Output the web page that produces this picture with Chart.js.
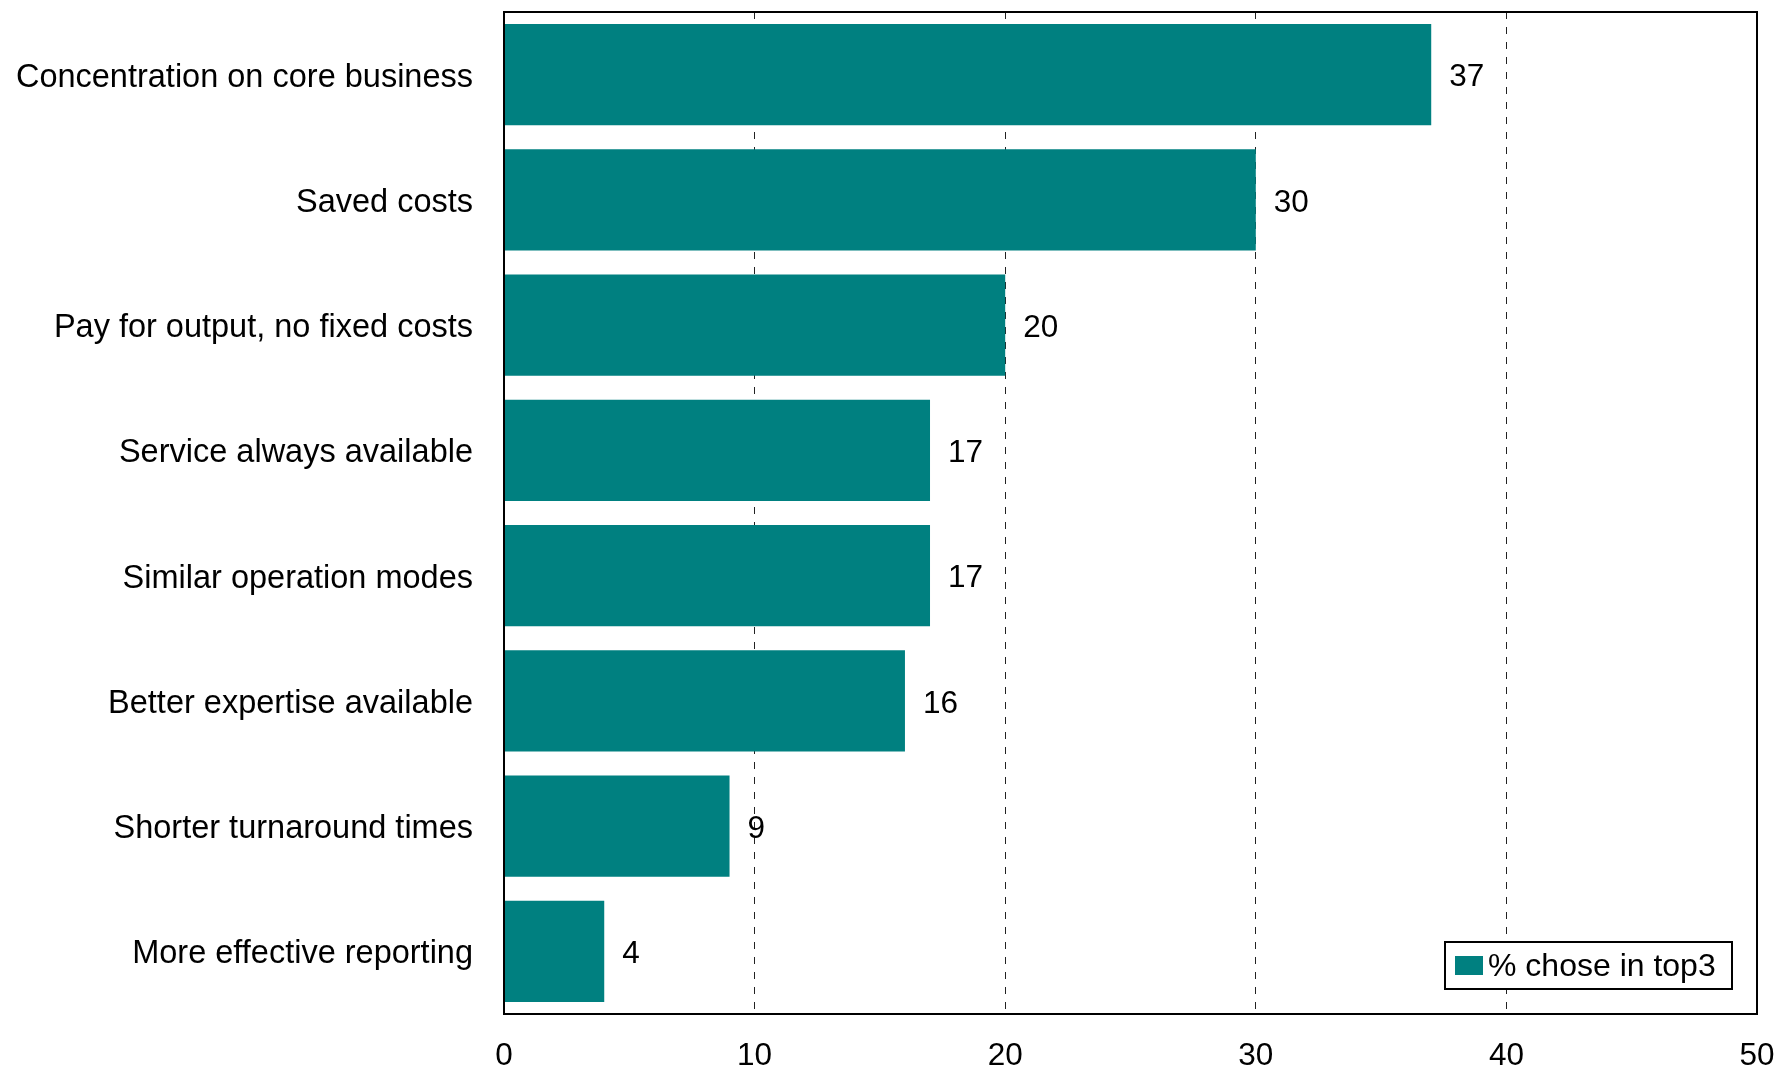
<!DOCTYPE html>
<html>
<head>
<meta charset="utf-8">
<script src="https://cdn.jsdelivr.net/npm/chart.js@4/dist/chart.umd.min.js"></script>
<style>
  html, body { margin: 0; padding: 0; background: #fff; }
  canvas { display: block; }
</style>
</head>
<body>
<canvas id="chart" width="1777" height="1066"></canvas>
<script>
const categories = [
    'Concentration on core business',
    'Saved costs',
    'Pay for output, no fixed costs',
    'Service always available',
    'Similar operation modes',
    'Better expertise available',
    'Shorter turnaround times',
    'More effective reporting'
];
const values = [37, 30, 20, 17, 17, 16, 9, 4];
const seriesName = '% chose in top3';
const xTicks = [0, 10, 20, 30, 40, 50];

const teal = '#008080';
const fontFamily = '"Liberation Sans", Arial, sans-serif';

// value labels right of each bar
const valueLabels = {
    id: 'valueLabels',
    afterDatasetsDraw(chart) {
        const ctx = chart.ctx;
        const meta = chart.getDatasetMeta(0);
        ctx.save();
        ctx.font = '31.5px ' + fontFamily;
        ctx.fillStyle = '#000';
        ctx.textAlign = 'left';
        ctx.textBaseline = 'middle';
        meta.data.forEach((bar, i) => {
            ctx.fillText(String(chart.data.datasets[0].data[i]), bar.x + 18, bar.y + 3);
        });
        ctx.restore();
    }
};

// frame around the plot area
const plotFrame = {
    id: 'plotFrame',
    afterDatasetsDraw(chart) {
        const {ctx, chartArea: a} = chart;
        ctx.save();
        ctx.strokeStyle = '#000';
        ctx.lineWidth = 2;
        ctx.strokeRect(a.left, a.top, a.right - a.left, a.bottom - a.top);
        ctx.restore();
    }
};

// legend box inside the plot, bottom right
const boxLegend = {
    id: 'boxLegend',
    afterDraw(chart) {
        const {ctx, chartArea: a} = chart;
        const w = 287, h = 47;
        const x = a.right - 25 - w, y = a.bottom - 25 - h;
        ctx.save();
        ctx.fillStyle = '#fff';
        ctx.fillRect(x, y, w, h);
        ctx.strokeStyle = '#000';
        ctx.lineWidth = 2;
        ctx.strokeRect(x, y, w, h);
        ctx.fillStyle = chart.data.datasets[0].backgroundColor;
        ctx.fillRect(x + 10, y + 14, 28, 19);
        ctx.fillStyle = '#000';
        ctx.font = '32px ' + fontFamily;
        ctx.textBaseline = 'middle';
        ctx.textAlign = 'left';
        ctx.fillText(chart.data.datasets[0].label, x + 43, y + h / 2 + 2);
        ctx.restore();
    }
};

// no extra room for overhanging tick labels: the plot box is fixed
function noOverhang(axis) {
    axis.paddingTop = 0;
    axis.paddingBottom = 0;
    axis.paddingLeft = 0;
    axis.paddingRight = 0;
}

new Chart(document.getElementById('chart'), {
    type: 'bar',
    data: {
        labels: categories,
        datasets: [{
            label: seriesName,
            data: values,
            backgroundColor: teal,
            borderWidth: 0,
            barPercentage: 0.81,
            categoryPercentage: 1.0
        }]
    },
    options: {
        indexAxis: 'y',
        responsive: false,
        animation: false,
        devicePixelRatio: 1,
        layout: {
            autoPadding: false,
            padding: { top: 12, right: 20, left: 0, bottom: 0 }
        },
        plugins: {
            legend: { display: false },
            tooltip: { enabled: false }
        },
        scales: {
            x: {
                min: xTicks[0],
                max: xTicks[xTicks.length - 1],
                afterBuildTicks(axis) {
                    axis.ticks = xTicks.map(v => ({ value: v }));
                },
                afterFit(axis) {
                    axis.height = 52;
                    noOverhang(axis);
                },
                grid: {
                    color: '#222',
                    lineWidth: 1,
                    drawTicks: false
                },
                border: { display: false, dash: [7, 8] },
                ticks: {
                    color: '#000',
                    padding: 23,
                    maxRotation: 0,
                    font: { family: fontFamily, size: 31.5 }
                }
            },
            y: {
                afterFit(axis) {
                    axis.width = 504;
                    noOverhang(axis);
                },
                grid: { display: false, drawTicks: false },
                border: { display: false },
                ticks: {
                    color: '#000',
                    padding: 31,
                    labelOffset: 3,
                    font: { family: fontFamily, size: 32.5 }
                }
            }
        }
    },
    plugins: [valueLabels, plotFrame, boxLegend]
});
</script>
</body>
</html>
